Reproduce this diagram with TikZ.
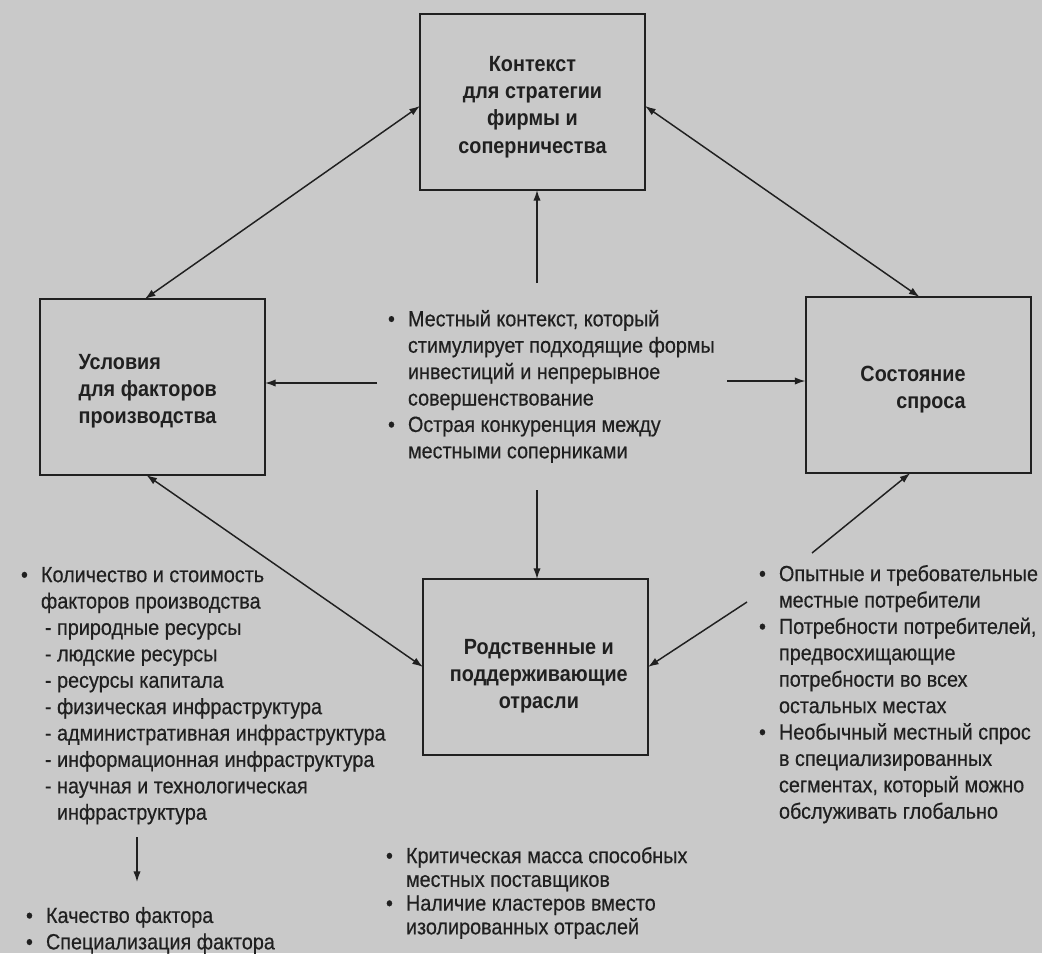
\documentclass[tikz,border=0pt]{standalone}
\usepackage{fontspec}
\setmainfont{Liberation Sans}[FakeStretch=0.9, UprightFeatures={FakeBold=0.4}]
\usetikzlibrary{arrows.meta}
\definecolor{paper}{RGB}{201,201,201}
\definecolor{ink}{RGB}{32,32,32}
% bullet with a fixed-width box, and plain indents for wrapped lines
\newcommand{\bul}{\makebox[15pt][l]{\textbullet}}
\newcommand{\ind}{\hspace*{15pt}}
\newcommand{\sub}{\hspace*{18pt}}
\newcommand{\subc}{\hspace*{27pt}}
% invisible strut that lowers a box title inside its frame
\newcommand{\titledrop}[1]{\rule{0pt}{#1}}
\begin{document}
\begin{tikzpicture}[x=0.75pt,y=-0.75pt,
  every node/.style={inner sep=0pt, outer sep=0pt, text=ink},
  factorbox/.style={draw=ink, line width=1.5pt, minimum width=168.75pt,
    minimum height=132pt, font=\fontsize{16.5}{20.4}\selectfont\bfseries},
  notes/.style={anchor=north west, align=left,
    font=\fontsize{16.5}{19.8}\selectfont},
  link/.style={draw=ink, line width=1.1pt},
  tip/.style={-{Latex[length=8pt,width=5.5pt]}},
  tips/.style={{Latex[length=8pt,width=5.5pt]}-{Latex[length=8pt,width=5.5pt]}}]

% page
\fill[paper] (0,0) rectangle (1042,953);
\useasboundingbox (0,0) rectangle (1042,953);

% the four determinants
\node[factorbox, align=center] (T) at (532.5,102)
  {\titledrop{19pt}Контекст\\для стратегии\\фирмы и\\соперничества};
\node[factorbox, align=left] (L) at (152.5,387)
  {\titledrop{18pt}Условия\\для факторов\\производства\hspace*{7.5pt}};
\node[factorbox, align=right] (R) at (918,385)
  {\titledrop{18pt}Состояние\hspace*{7.5pt}\\спроса\hspace*{7.5pt}};
\node[factorbox, align=center] (B) at (535.5,667)
  {\titledrop{25pt}\hspace*{5pt}Родственные и\\\hspace*{5pt}поддерживающие\\\hspace*{5pt}отрасли};

% notes
\node[notes] (ctr) at (388,310)
  {\bul Местный контекст, который\\
   \ind стимулирует подходящие формы\\
   \ind инвестиций и непрерывное\\
   \ind совершенствование\\
   \bul Острая конкуренция между\\
   \ind местными соперниками};

\node[notes] (rtx) at (759,565)
  {\bul Опытные и требовательные\\
   \ind местные потребители\\
   \bul Потребности потребителей,\\
   \ind предвосхищающие\\
   \ind потребности во всех\\
   \ind остальных местах\\
   \bul Необычный местный спрос\\
   \ind в специализированных\\
   \ind сегментах, который можно\\
   \ind обслуживать глобально};

\node[notes] (ltx) at (21,567)
  {\bul Количество и стоимость\\
   \ind факторов производства\\
   \sub - природные ресурсы\\
   \sub - людские ресурсы\\
   \sub - ресурсы капитала\\
   \sub - физическая инфраструктура\\
   \sub - административная инфраструктура\\
   \sub - информационная инфраструктура\\
   \sub - научная и технологическая\\
   \subc инфраструктура};

\node[notes] (qtx) at (26,907)
  {\bul Качество фактора\\
   \bul Специализация фактора};

\node[notes, font=\fontsize{16.5}{17.8}\selectfont] (mtx) at (386,847)
  {\bul Критическая масса способных\\
   \ind местных поставщиков\\
   \bul Наличие кластеров вместо\\
   \ind изолированных отраслей};

% free ends of the one-way arrows
\coordinate (cl) at (377,383);
\coordinate (cr) at (727,381);
\coordinate (cu) at (537,283);
\coordinate (cd) at (537,490);
\coordinate (ru) at (812,553);
\coordinate (rd) at (747,602);
\coordinate (fa) at (137,837);
\coordinate (fb) at (137,882);

% two-way links between the determinants
\draw[link, tips] (L.95) -- (T.182);
\draw[link, tips] (T.-2) -- (R.89);
\draw[link, tips] (L.266) -- (B.180);

% rivalry notes feed the boxes around them
\draw[link, tip] (cl) -- (cl -| L.east);
\draw[link, tip] (cr) -- (cr -| R.west);
\draw[link, tip] (cu) -- (cu |- T.south);
\draw[link, tip] (cd) -- (cd |- B.north);

% demand notes
\draw[link, tip] (ru) -- (R.265);
\draw[link, tip] (rd) -- (B.east);

% factor notes lead to quality and specialisation
\draw[link, tip] (fa) -- (fb);
\end{tikzpicture}
\end{document}
